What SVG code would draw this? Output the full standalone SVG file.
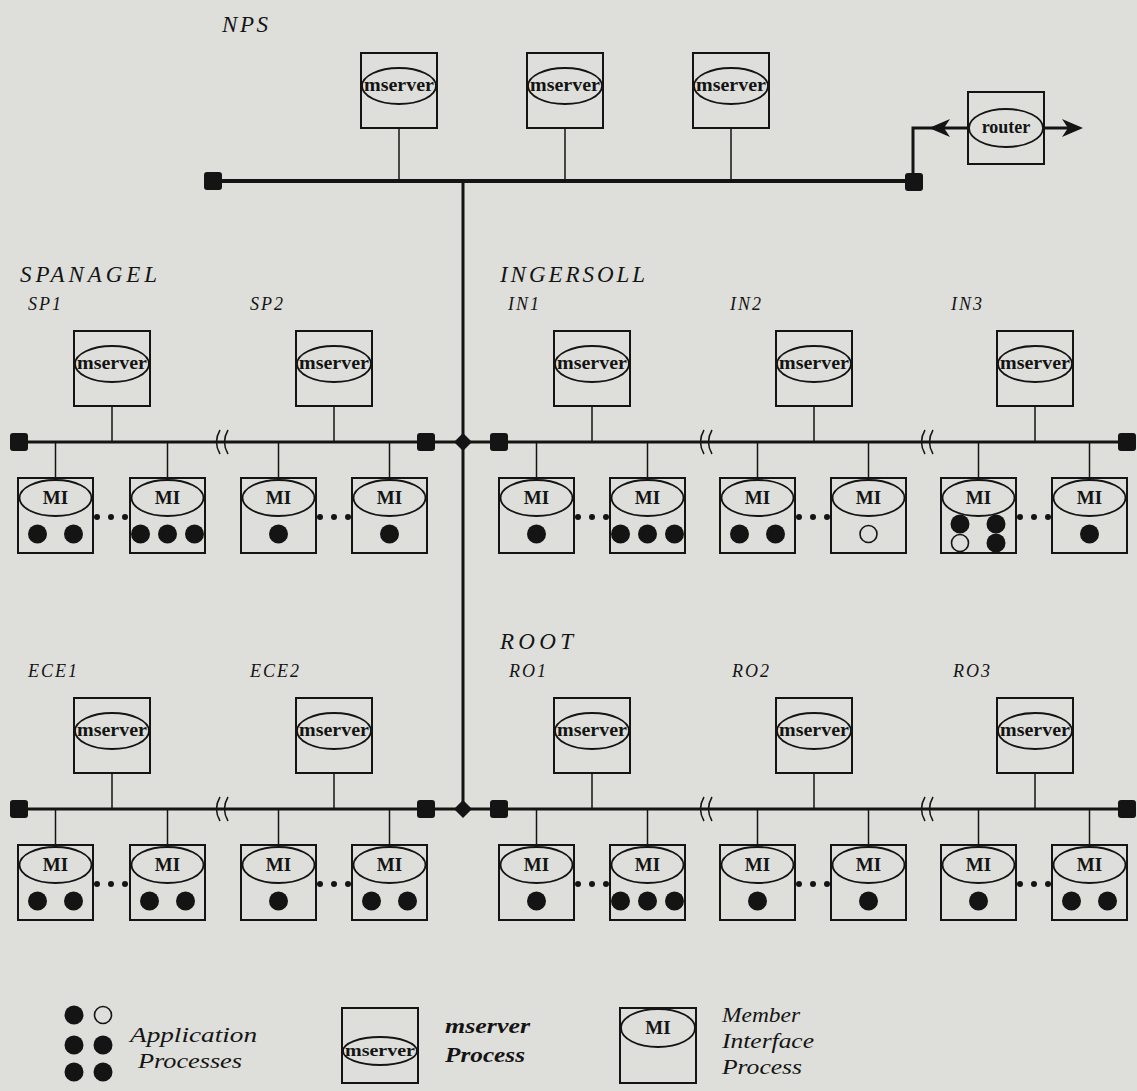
<svg xmlns="http://www.w3.org/2000/svg" xmlns:xlink="http://www.w3.org/1999/xlink" width="1137" height="1091" viewBox="0 0 1137 1091">
  <style>
    .frame{fill:none;stroke:#141414;stroke-width:2}
    .oval{fill:none;stroke:#141414;stroke-width:1.8}
    .drop{stroke:#141414;stroke-width:1.5;fill:none}
    .bus{stroke:#141414;stroke-width:3;fill:none}
    .thick{stroke:#141414;stroke-width:4;fill:none}
    .brk{stroke:#141414;stroke-width:1.5;fill:none}
    .blk{fill:#141414}
    .hollow{fill:none;stroke:#141414;stroke-width:1.6}
    .grp{font-family:"Liberation Serif","Times New Roman",serif;font-style:italic;font-size:23px;fill:#141414}
    .sub{font-family:"Liberation Serif","Times New Roman",serif;font-style:italic;font-size:18px;fill:#141414;letter-spacing:2px}
    .ms{font-family:"Liberation Serif","Times New Roman",serif;font-weight:bold;font-size:19px;fill:#141414;text-anchor:middle}
    .leg{font-family:"Liberation Serif","Times New Roman",serif;font-style:italic;font-size:22px;fill:#141414}
    .legb{font-family:"Liberation Serif","Times New Roman",serif;font-style:italic;font-weight:bold;font-size:22px;fill:#141414}
  </style>
  <defs>
    <!-- mserver process: square with an oval near the top -->
    <g id="msBox">
      <rect class="frame" x="0" y="0" width="76" height="75"/>
      <ellipse class="oval" cx="38" cy="33" rx="37" ry="18"/>
    </g>
    <!-- member interface process -->
    <g id="miBox">
      <rect class="frame" x="0" y="0" width="75" height="75"/>
      <ellipse class="oval" cx="37.5" cy="20" rx="36" ry="18"/>
    </g>
    <!-- bus terminator -->
    <rect id="term" x="-9" y="-9" width="18" height="18" rx="3" class="blk"/>
    <!-- bus junction -->
    <polygon id="junc" points="0,-9 9,0 0,9 -9,0" class="blk"/>
    <!-- cable break mark -->
    <g id="brk">
      <path class="brk" d="M-2,-12 Q-9,0 -2,12"/>
      <path class="brk" d="M6,-12 Q-1,0 6,12"/>
    </g>
    <!-- ellipsis between member boxes -->
    <g id="more">
      <circle cx="0" cy="0" r="3" class="blk"/>
      <circle cx="14" cy="0" r="3" class="blk"/>
      <circle cx="28" cy="0" r="3" class="blk"/>
    </g>
  </defs>

  <rect x="0" y="0" width="1137" height="1091" fill="#dedfdb"/>

  <!-- ===== connectors ===== -->
  <g id="connectors">
    <!-- NPS backbone -->
    <line class="thick" x1="213" y1="181" x2="913" y2="181"/>
    <line class="drop" x1="399" y1="128" x2="399" y2="181"/>
    <line class="drop" x1="565" y1="128" x2="565" y2="181"/>
    <line class="drop" x1="731" y1="128" x2="731" y2="181"/>
    <use href="#term" x="213" y="181"/>
    <use href="#term" x="914" y="182"/>
    <!-- router link -->
    <polyline class="bus" points="913,182 913,128 969,128"/>
    <polygon class="blk" points="929,128 950,119 944,128 950,137"/>
    <line class="bus" x1="1044" y1="128" x2="1078" y2="128"/>
    <polygon class="blk" points="1083,128 1062,119 1068,128 1062,137"/>
    <!-- trunk -->
    <line class="bus" x1="463" y1="181" x2="463" y2="809"/>

    <!-- upper subnets -->
    <line class="bus" x1="19" y1="442" x2="1127" y2="442"/>
    <use href="#term" x="19" y="442"/>
    <use href="#term" x="426" y="442"/>
    <use href="#junc" x="463" y="442"/>
    <use href="#term" x="499" y="442"/>
    <use href="#term" x="1127" y="442"/>
    <use href="#brk" x="222" y="442"/>
    <use href="#brk" x="706" y="442"/>
    <use href="#brk" x="927" y="442"/>
    <!-- mserver drops -->
    <line class="drop" x1="112" y1="406" x2="112" y2="442"/>
    <line class="drop" x1="334" y1="406" x2="334" y2="442"/>
    <line class="drop" x1="592" y1="406" x2="592" y2="442"/>
    <line class="drop" x1="814" y1="406" x2="814" y2="442"/>
    <line class="drop" x1="1035" y1="406" x2="1035" y2="442"/>
    <!-- MI drops -->
    <line class="drop" x1="55.5" y1="442" x2="55.5" y2="478"/>
    <line class="drop" x1="167.5" y1="442" x2="167.5" y2="478"/>
    <line class="drop" x1="278.5" y1="442" x2="278.5" y2="478"/>
    <line class="drop" x1="389.5" y1="442" x2="389.5" y2="478"/>
    <line class="drop" x1="536.5" y1="442" x2="536.5" y2="478"/>
    <line class="drop" x1="647.5" y1="442" x2="647.5" y2="478"/>
    <line class="drop" x1="757.5" y1="442" x2="757.5" y2="478"/>
    <line class="drop" x1="868.5" y1="442" x2="868.5" y2="478"/>
    <line class="drop" x1="978.5" y1="442" x2="978.5" y2="478"/>
    <line class="drop" x1="1089.5" y1="442" x2="1089.5" y2="478"/>

    <!-- lower subnets -->
    <line class="bus" x1="19" y1="809" x2="1127" y2="809"/>
    <use href="#term" x="19" y="809"/>
    <use href="#term" x="426" y="809"/>
    <use href="#junc" x="463" y="809"/>
    <use href="#term" x="499" y="809"/>
    <use href="#term" x="1127" y="809"/>
    <use href="#brk" x="222" y="809"/>
    <use href="#brk" x="706" y="809"/>
    <use href="#brk" x="927" y="809"/>
    <line class="drop" x1="112" y1="773" x2="112" y2="809"/>
    <line class="drop" x1="334" y1="773" x2="334" y2="809"/>
    <line class="drop" x1="592" y1="773" x2="592" y2="809"/>
    <line class="drop" x1="814" y1="773" x2="814" y2="809"/>
    <line class="drop" x1="1035" y1="773" x2="1035" y2="809"/>
    <line class="drop" x1="55.5" y1="809" x2="55.5" y2="845"/>
    <line class="drop" x1="167.5" y1="809" x2="167.5" y2="845"/>
    <line class="drop" x1="278.5" y1="809" x2="278.5" y2="845"/>
    <line class="drop" x1="389.5" y1="809" x2="389.5" y2="845"/>
    <line class="drop" x1="536.5" y1="809" x2="536.5" y2="845"/>
    <line class="drop" x1="647.5" y1="809" x2="647.5" y2="845"/>
    <line class="drop" x1="757.5" y1="809" x2="757.5" y2="845"/>
    <line class="drop" x1="868.5" y1="809" x2="868.5" y2="845"/>
    <line class="drop" x1="978.5" y1="809" x2="978.5" y2="845"/>
    <line class="drop" x1="1089.5" y1="809" x2="1089.5" y2="845"/>

    <!-- ellipses between member boxes -->
    <use href="#more" x="97" y="517"/>
    <use href="#more" x="320" y="517"/>
    <use href="#more" x="578" y="517"/>
    <use href="#more" x="799" y="517"/>
    <use href="#more" x="1020" y="517"/>
    <use href="#more" x="97" y="884"/>
    <use href="#more" x="320" y="884"/>
    <use href="#more" x="578" y="884"/>
    <use href="#more" x="799" y="884"/>
    <use href="#more" x="1020" y="884"/>
  </g>

  <!-- ===== site labels ===== -->
  <g id="labels">
    <text class="grp" x="222" y="32" textLength="46" lengthAdjust="spacing">NPS</text>
    <text class="grp" x="20" y="282" textLength="137" lengthAdjust="spacing">SPANAGEL</text>
    <text class="grp" x="500" y="282" textLength="145" lengthAdjust="spacing">INGERSOLL</text>
    <text class="grp" x="500" y="649" textLength="73" lengthAdjust="spacing">ROOT</text>
    <text class="sub" x="28" y="310">SP1</text>
    <text class="sub" x="250" y="310">SP2</text>
    <text class="sub" x="508" y="310">IN1</text>
    <text class="sub" x="730" y="310">IN2</text>
    <text class="sub" x="951" y="310">IN3</text>
    <text class="sub" x="28" y="677">ECE1</text>
    <text class="sub" x="250" y="677">ECE2</text>
    <text class="sub" x="509" y="677">RO1</text>
    <text class="sub" x="732" y="677">RO2</text>
    <text class="sub" x="953" y="677">RO3</text>
  </g>

  <!-- ===== NPS mservers ===== -->
  <g id="nps-ms1"><use href="#msBox" x="361" y="53"/><text class="ms" x="399" y="91" textLength="70" lengthAdjust="spacingAndGlyphs">mserver</text></g>
  <g id="nps-ms2"><use href="#msBox" x="527" y="53"/><text class="ms" x="565" y="91" textLength="70" lengthAdjust="spacingAndGlyphs">mserver</text></g>
  <g id="nps-ms3"><use href="#msBox" x="693" y="53"/><text class="ms" x="731" y="91" textLength="70" lengthAdjust="spacingAndGlyphs">mserver</text></g>

  <!-- ===== router ===== -->
  <g id="router">
    <rect class="frame" x="968" y="92" width="76" height="72"/>
    <ellipse class="oval" cx="1006" cy="128" rx="37" ry="19"/>
    <text class="ms" x="1006" y="133" style="font-size:18px">router</text>
  </g>

  <!-- ===== subnet mservers ===== -->
  <g id="sp1-ms"><use href="#msBox" x="74" y="331"/><text class="ms" x="112" y="369" textLength="70" lengthAdjust="spacingAndGlyphs">mserver</text></g>
  <g id="sp2-ms"><use href="#msBox" x="296" y="331"/><text class="ms" x="334" y="369" textLength="70" lengthAdjust="spacingAndGlyphs">mserver</text></g>
  <g id="in1-ms"><use href="#msBox" x="554" y="331"/><text class="ms" x="592" y="369" textLength="70" lengthAdjust="spacingAndGlyphs">mserver</text></g>
  <g id="in2-ms"><use href="#msBox" x="776" y="331"/><text class="ms" x="814" y="369" textLength="70" lengthAdjust="spacingAndGlyphs">mserver</text></g>
  <g id="in3-ms"><use href="#msBox" x="997" y="331"/><text class="ms" x="1035" y="369" textLength="70" lengthAdjust="spacingAndGlyphs">mserver</text></g>
  <g id="ece1-ms"><use href="#msBox" x="74" y="698"/><text class="ms" x="112" y="736" textLength="70" lengthAdjust="spacingAndGlyphs">mserver</text></g>
  <g id="ece2-ms"><use href="#msBox" x="296" y="698"/><text class="ms" x="334" y="736" textLength="70" lengthAdjust="spacingAndGlyphs">mserver</text></g>
  <g id="ro1-ms"><use href="#msBox" x="554" y="698"/><text class="ms" x="592" y="736" textLength="70" lengthAdjust="spacingAndGlyphs">mserver</text></g>
  <g id="ro2-ms"><use href="#msBox" x="776" y="698"/><text class="ms" x="814" y="736" textLength="70" lengthAdjust="spacingAndGlyphs">mserver</text></g>
  <g id="ro3-ms"><use href="#msBox" x="997" y="698"/><text class="ms" x="1035" y="736" textLength="70" lengthAdjust="spacingAndGlyphs">mserver</text></g>

  <!-- ===== member interfaces, upper row ===== -->
  <g id="sp-mi1"><use href="#miBox" x="18" y="478"/><text class="ms" x="55.5" y="504">MI</text>
    <circle class="blk" cx="37.5" cy="534" r="9.5"/><circle class="blk" cx="73.5" cy="534" r="9.5"/></g>
  <g id="sp-mi2"><use href="#miBox" x="130" y="478"/><text class="ms" x="167.5" y="504">MI</text>
    <circle class="blk" cx="140.5" cy="534" r="9.5"/><circle class="blk" cx="167.5" cy="534" r="9.5"/><circle class="blk" cx="194.5" cy="534" r="9.5"/></g>
  <g id="sp-mi3"><use href="#miBox" x="241" y="478"/><text class="ms" x="278.5" y="504">MI</text>
    <circle class="blk" cx="278.5" cy="534" r="9.5"/></g>
  <g id="sp-mi4"><use href="#miBox" x="352" y="478"/><text class="ms" x="389.5" y="504">MI</text>
    <circle class="blk" cx="389.5" cy="534" r="9.5"/></g>
  <g id="in-mi1"><use href="#miBox" x="499" y="478"/><text class="ms" x="536.5" y="504">MI</text>
    <circle class="blk" cx="536.5" cy="534" r="9.5"/></g>
  <g id="in-mi2"><use href="#miBox" x="610" y="478"/><text class="ms" x="647.5" y="504">MI</text>
    <circle class="blk" cx="620.5" cy="534" r="9.5"/><circle class="blk" cx="647.5" cy="534" r="9.5"/><circle class="blk" cx="674.5" cy="534" r="9.5"/></g>
  <g id="in-mi3"><use href="#miBox" x="720" y="478"/><text class="ms" x="757.5" y="504">MI</text>
    <circle class="blk" cx="739.5" cy="534" r="9.5"/><circle class="blk" cx="775.5" cy="534" r="9.5"/></g>
  <g id="in-mi4"><use href="#miBox" x="831" y="478"/><text class="ms" x="868.5" y="504">MI</text>
    <circle class="hollow" cx="868.5" cy="534" r="8.5"/></g>
  <g id="in-mi5"><use href="#miBox" x="941" y="478"/><text class="ms" x="978.5" y="504">MI</text>
    <circle class="blk" cx="960" cy="524" r="9.5"/><circle class="blk" cx="996" cy="524" r="9.5"/>
    <circle class="hollow" cx="960" cy="543" r="8.5"/><circle class="blk" cx="996" cy="543" r="9.5"/></g>
  <g id="in-mi6"><use href="#miBox" x="1052" y="478"/><text class="ms" x="1089.5" y="504">MI</text>
    <circle class="blk" cx="1089.5" cy="534" r="9.5"/></g>

  <!-- ===== member interfaces, lower row ===== -->
  <g id="ece-mi1"><use href="#miBox" x="18" y="845"/><text class="ms" x="55.5" y="871">MI</text>
    <circle class="blk" cx="37.5" cy="901" r="9.5"/><circle class="blk" cx="73.5" cy="901" r="9.5"/></g>
  <g id="ece-mi2"><use href="#miBox" x="130" y="845"/><text class="ms" x="167.5" y="871">MI</text>
    <circle class="blk" cx="149.5" cy="901" r="9.5"/><circle class="blk" cx="185.5" cy="901" r="9.5"/></g>
  <g id="ece-mi3"><use href="#miBox" x="241" y="845"/><text class="ms" x="278.5" y="871">MI</text>
    <circle class="blk" cx="278.5" cy="901" r="9.5"/></g>
  <g id="ece-mi4"><use href="#miBox" x="352" y="845"/><text class="ms" x="389.5" y="871">MI</text>
    <circle class="blk" cx="371.5" cy="901" r="9.5"/><circle class="blk" cx="407.5" cy="901" r="9.5"/></g>
  <g id="ro-mi1"><use href="#miBox" x="499" y="845"/><text class="ms" x="536.5" y="871">MI</text>
    <circle class="blk" cx="536.5" cy="901" r="9.5"/></g>
  <g id="ro-mi2"><use href="#miBox" x="610" y="845"/><text class="ms" x="647.5" y="871">MI</text>
    <circle class="blk" cx="620.5" cy="901" r="9.5"/><circle class="blk" cx="647.5" cy="901" r="9.5"/><circle class="blk" cx="674.5" cy="901" r="9.5"/></g>
  <g id="ro-mi3"><use href="#miBox" x="720" y="845"/><text class="ms" x="757.5" y="871">MI</text>
    <circle class="blk" cx="757.5" cy="901" r="9.5"/></g>
  <g id="ro-mi4"><use href="#miBox" x="831" y="845"/><text class="ms" x="868.5" y="871">MI</text>
    <circle class="blk" cx="868.5" cy="901" r="9.5"/></g>
  <g id="ro-mi5"><use href="#miBox" x="941" y="845"/><text class="ms" x="978.5" y="871">MI</text>
    <circle class="blk" cx="978.5" cy="901" r="9.5"/></g>
  <g id="ro-mi6"><use href="#miBox" x="1052" y="845"/><text class="ms" x="1089.5" y="871">MI</text>
    <circle class="blk" cx="1071.5" cy="901" r="9.5"/><circle class="blk" cx="1107.5" cy="901" r="9.5"/></g>

  <!-- ===== key ===== -->
  <g id="key-app">
    <circle class="blk" cx="74" cy="1015" r="9.5"/>
    <circle class="hollow" cx="103" cy="1015" r="8.5"/>
    <circle class="blk" cx="74" cy="1045" r="9.5"/>
    <circle class="blk" cx="103" cy="1045" r="9.5"/>
    <circle class="blk" cx="74" cy="1072" r="9.5"/>
    <circle class="blk" cx="103" cy="1072" r="9.5"/>
    <text class="leg" x="130" y="1042" textLength="127" lengthAdjust="spacingAndGlyphs">Application</text>
    <text class="leg" x="138" y="1068" textLength="104" lengthAdjust="spacingAndGlyphs">Processes</text>
  </g>
  <g id="key-ms">
    <rect class="frame" x="342" y="1008" width="76" height="75"/>
    <ellipse class="oval" cx="380" cy="1051" rx="37" ry="14"/>
    <text class="ms" x="380" y="1056" textLength="70" lengthAdjust="spacingAndGlyphs" style="font-size:17px">mserver</text>
    <text class="legb" x="445" y="1033" textLength="85" lengthAdjust="spacingAndGlyphs">mserver</text>
    <text class="legb" x="445" y="1062" textLength="80" lengthAdjust="spacingAndGlyphs">Process</text>
  </g>
  <g id="key-mi">
    <rect class="frame" x="620" y="1008" width="76" height="75"/>
    <ellipse class="oval" cx="658" cy="1028" rx="37" ry="19"/>
    <text class="ms" x="658" y="1034">MI</text>
    <text class="leg" x="722" y="1022" textLength="78" lengthAdjust="spacingAndGlyphs">Member</text>
    <text class="leg" x="722" y="1048" textLength="92" lengthAdjust="spacingAndGlyphs">Interface</text>
    <text class="leg" x="722" y="1074" textLength="80" lengthAdjust="spacingAndGlyphs">Process</text>
  </g>
</svg>
